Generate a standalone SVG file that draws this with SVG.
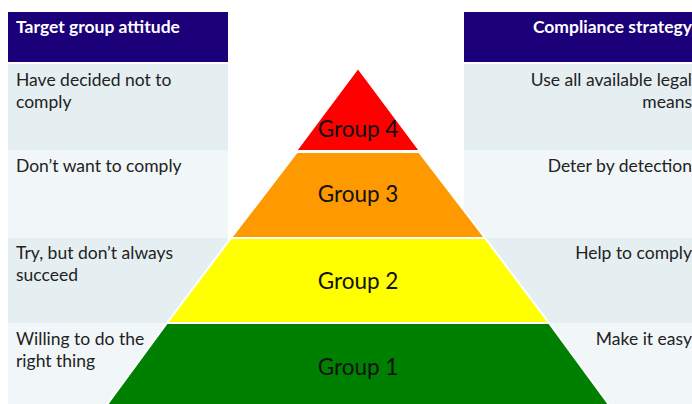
<svg xmlns="http://www.w3.org/2000/svg" width="692" height="404" viewBox="0 0 692 404">
<style>
.hd{fill:#1b0079}
.ra{fill:#e5eff2}
.rb{fill:#f1f6f9}
.ht{font-family:Lato,"Liberation Sans",sans-serif;font-size:17.5px;font-weight:bold;fill:#ffffff}
.tx{font-family:Lato,"Liberation Sans",sans-serif;font-size:17.5px;fill:#222222}
.band{stroke:#ffffff;stroke-width:2;stroke-linejoin:miter}
.gl{font-family:Lato,"Liberation Sans",sans-serif;font-size:22.5px;fill:#111111;text-anchor:middle}
</style>
<rect width="692" height="404" fill="#ffffff"/>
<g id="left-table">
<rect class="hd" x="8" y="12" width="220" height="50"/>
<rect class="ra" x="8" y="64" width="220" height="86"/>
<rect class="rb" x="8" y="150" width="220" height="88"/>
<rect class="ra" x="8" y="238" width="220" height="85"/>
<rect class="rb" x="8" y="323" width="220" height="81"/>
<text class="ht" x="16" y="33">Target group attitude</text>
<text class="tx" x="16" y="86">Have decided not to</text>
<text class="tx" x="16" y="108">comply</text>
<text class="tx" x="16" y="172">Don’t want to comply</text>
<text class="tx" x="16" y="259">Try, but don’t always</text>
<text class="tx" x="16" y="281">succeed</text>
<text class="tx" x="16" y="345">Willing to do the</text>
<text class="tx" x="16" y="367">right thing</text>
</g>
<g id="right-table">
<rect class="hd" x="464" y="12" width="228" height="50"/>
<rect class="ra" x="464" y="64" width="228" height="86"/>
<rect class="rb" x="464" y="150" width="228" height="88"/>
<rect class="ra" x="464" y="238" width="228" height="85"/>
<rect class="rb" x="464" y="323" width="228" height="81"/>
<g text-anchor="end">
<text class="ht" x="692" y="33">Compliance strategy</text>
<text class="tx" x="692" y="86">Use all available legal</text>
<text class="tx" x="692" y="108">means</text>
<text class="tx" x="692" y="172">Deter by detection</text>
<text class="tx" x="692" y="259">Help to comply</text>
<text class="tx" x="692" y="345">Make it easy</text>
</g>
</g>
<g id="group4">
<polygon class="band" points="358,68 420,151 296,151" fill="#ff0000"/>
<text class="gl" x="358" y="137">Group 4</text>
</g>
<g id="group3">
<polygon class="band" points="297,152 419,152 485,238 231,238" fill="#ff9900"/>
<text class="gl" x="358" y="202">Group 3</text>
</g>
<g id="group2">
<polygon class="band" points="231,238 485,238 549,323 167,323" fill="#ffff00"/>
<text class="gl" x="358" y="289">Group 2</text>
</g>
<g id="group1">
<polygon class="band" points="167,323 549,323 610,406 106,406" fill="#008000"/>
<text class="gl" x="358" y="375">Group 1</text>
</g>
</svg>
